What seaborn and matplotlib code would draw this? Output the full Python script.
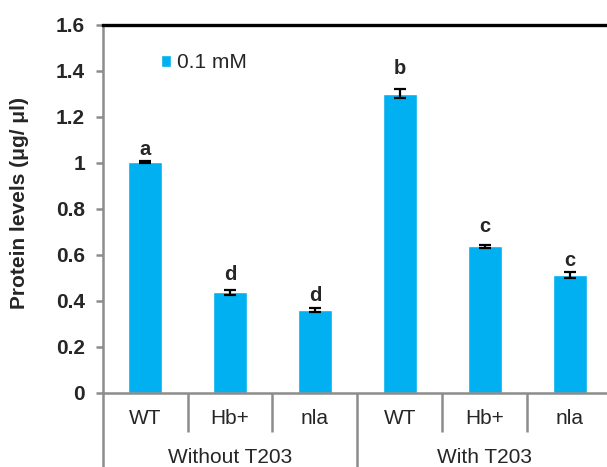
import numpy as np
import pandas as pd
import matplotlib
matplotlib.use("Agg")
import matplotlib.pyplot as plt
import seaborn as sns

# Protein levels per strain, without and with T203 treatment
groups = ["Without T203"] * 3 + ["With T203"] * 3
strains = ["WT", "Hb+", "nla", "WT", "Hb+", "nla"]
protein = [1.005, 0.438, 0.362, 1.302, 0.638, 0.513]
sem = [0.004, 0.010, 0.008, 0.020, 0.006, 0.011]
letters = ["a", "d", "d", "b", "c", "c"]
dose = "0.1 mM"
y_ticks = [0, 0.2, 0.4, 0.6, 0.8, 1, 1.2, 1.4, 1.6]

df = pd.DataFrame({
    "sample": [f"{g}|{s}" for g, s in zip(groups, strains)],
    "protein": protein,
    "dose": dose,
})

sns.set_style("white")
plt.rcParams["font.family"] = ["Liberation Sans", "DejaVu Sans"]

BLUE = "#00B0F0"
GRAY = "#8c8c8c"

fig = plt.figure(figsize=(6.07, 4.67), dpi=100)
ax = fig.add_axes([0.1692, 0.1585, 0.8391, 0.788])

sns.barplot(data=df, x="sample", y="protein", hue="dose", palette=[BLUE],
            width=0.4, dodge=False, errorbar=None, saturation=1, ax=ax)

xpos = np.arange(len(protein))
ax.errorbar(xpos, protein, yerr=sem, fmt="none", ecolor="black",
            elinewidth=1.6, capsize=4, capthick=1.6, zorder=3)

# significance letters above each error bar
letter_pad = [4.3, 7.2, 5.0, 10.8, 9.0, 4.3]
for i, (p, e, L) in enumerate(zip(protein, sem, letters)):
    ax.annotate(L, (i, p + e), xytext=(0, letter_pad[i]), textcoords="offset points",
                ha="center", va="baseline", fontsize=14.5, fontweight="bold")

# y axis
ax.set_ylim(0, 1.6)
ax.set_yticks(y_ticks)
ax.set_yticklabels([f"{v:g}" for v in y_ticks])
for t in ax.get_yticklabels():
    t.set_fontweight("bold")
ax.tick_params(axis="y", left=True, length=4.8, width=1.8, color=GRAY, pad=8,
               labelsize=15)
ax.set_ylabel("Protein levels (μg/ μl)", fontsize=15, fontweight="bold")
ax.yaxis.set_label_coords(-0.145, 0.515)

# two-level categorical x axis
ax.set_xlim(-0.5, len(protein) - 0.5)
ax.set_xticks([])
ax.set_xlabel("")
trans = ax.get_xaxis_transform()
for i, s in enumerate(strains):
    ax.text(i, -0.068, s, transform=trans, ha="center", va="center", fontsize=15)

group_names = list(dict.fromkeys(groups))
n_per = len(strains) // len(group_names)
for gi, name in enumerate(group_names):
    start = gi * n_per - 0.5
    ax.plot([start, start], [0, -0.21], transform=trans, clip_on=False,
            color=GRAY, lw=1.8, solid_capstyle="butt")
    for k in range(1, n_per):
        b = start + k
        ax.plot([b, b], [0, -0.106], transform=trans, clip_on=False,
                color=GRAY, lw=1.8, solid_capstyle="butt")
    ax.text(start + n_per / 2, -0.174, name, transform=trans, ha="center",
            va="center", fontsize=15)
end = len(strains) - 0.5
ax.plot([end, end], [0, -0.21], transform=trans, clip_on=False,
        color=GRAY, lw=1.8, solid_capstyle="butt")

# spines
for side in ("left", "bottom"):
    ax.spines[side].set_color(GRAY)
    ax.spines[side].set_linewidth(1.8)
ax.spines["top"].set_color("black")
ax.spines["top"].set_linewidth(2.4)
ax.spines["right"].set_visible(False)

# legend
handles, labels = ax.get_legend_handles_labels()
ax.legend(handles, labels, loc="center left", bbox_to_anchor=(0.1145, 0.897),
          frameon=False, fontsize=15, handlelength=0.5, handleheight=0.5,
          handletextpad=0.25, borderpad=0, borderaxespad=0, title=None)

fig.savefig("out.png", dpi=100)
